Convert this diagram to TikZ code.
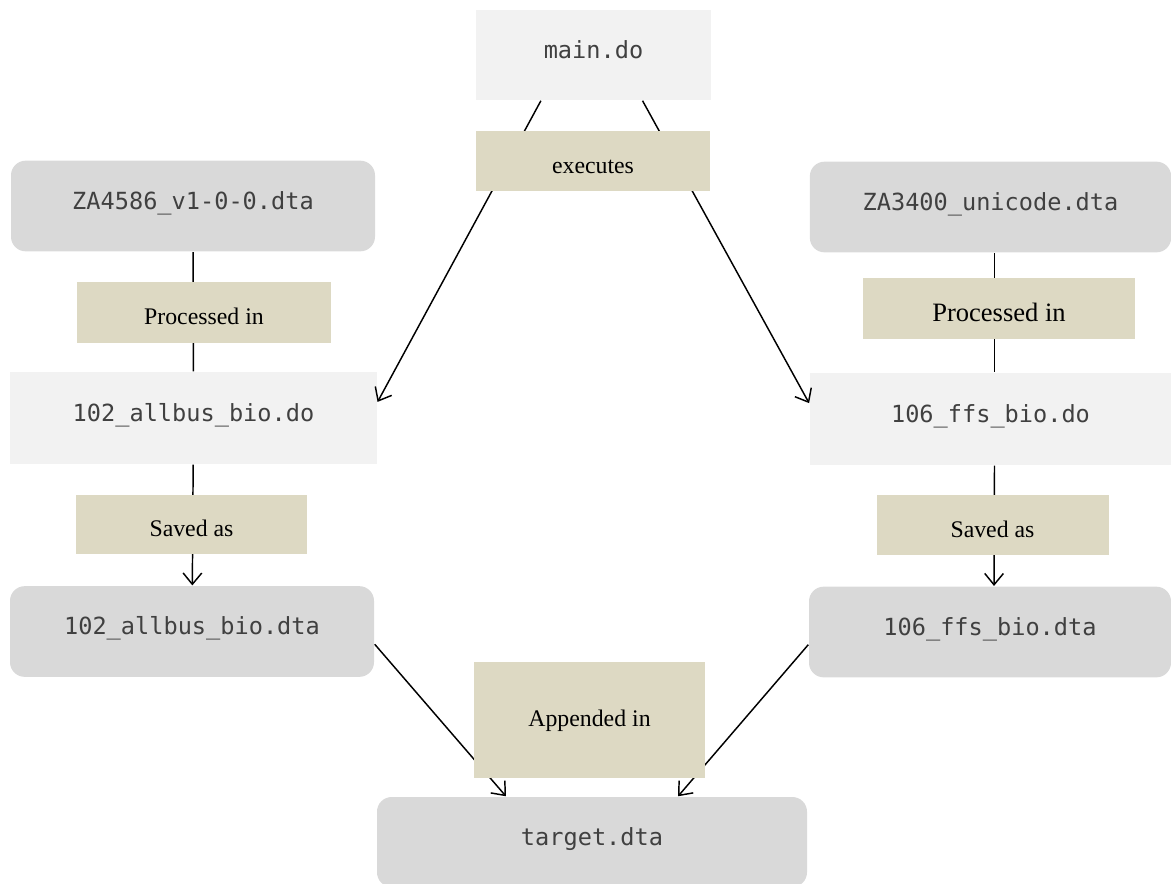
\documentclass[tikz,border=0pt]{standalone}
\usepackage{fontspec}
\setmainfont{Liberation Serif}
\setmonofont{DejaVu Sans Mono}
\usetikzlibrary{arrows.meta}

\definecolor{dofill}{HTML}{F2F2F2}
\definecolor{dtafill}{HTML}{D9D9D9}
\definecolor{tagfill}{HTML}{DDD9C3}

\tikzstyle{dofile} = [rectangle, minimum width=275pt, minimum height=69pt, inner sep=0pt, text height=10pt, text depth=5pt, text centered, fill=dofill, text=black!75, font=\ttfamily\fontsize{17.7}{20}\selectfont]
\tikzstyle{dtafile} = [rectangle, rounded corners=11pt, minimum width=273pt, minimum height=68pt, inner sep=0pt, text height=10pt, text depth=5pt, text centered, fill=dtafill, text=black!75, font=\ttfamily\fontsize{17.7}{20}\selectfont]
\tikzstyle{tag} = [rectangle, minimum width=174pt, minimum height=45pt, inner sep=0pt, text height=20pt, text depth=2pt, text centered, fill=tagfill, font=\fontsize{17.85}{20}\selectfont]

\begin{document}
\begin{tikzpicture}[x=0.75pt,y=-0.75pt,-{Straight Barb[length=8.5pt,width=14pt]},line width=1.1pt]
    \useasboundingbox (0,0) rectangle (1171,883);

    \node[dofile] (M) at (593.5,55) [minimum width=176pt, minimum height=67.5pt] {main.do};

    \node[dtafile] (Z1) at (193,206) {ZA4586\_v1-0-0.dta};
    \node[dofile] (A) at (193.5,418) {102\_allbus\_bio.do};
    \node[dtafile] (C) at (192,631.5) {102\_allbus\_bio.dta};

    \node[dtafile] (Z2) at (990.5,207) [minimum width=271pt] {ZA3400\_unicode.dta};
    \node[dofile] (B) at (990.5,419) [minimum width=271pt] {106\_ffs\_bio.do};
    \node[dtafile] (D) at (990,632) [minimum width=271.5pt] {106\_ffs\_bio.dta};

    \node[dtafile] (T) at (592,842) [minimum width=322.5pt, minimum height=67.5pt] {target.dta};

    % connectors first, labels on top
    \path
    (M.221) edge (A.5)
    (M.-43) edge (B.175);

    \path
    (Z1) edge[-] (A)
    (A) edge (C)
    (C.-4) edge (T.152);

    \path
    ([xshift=3pt]Z2.south) edge[-] ([xshift=3pt]B.north)
    ([xshift=3pt]B.south) edge ([xshift=3pt]D.north)
    (D.184) edge (T.28);

    \node[tag] (LE) at (593,161) [minimum width=175.5pt] {executes};
    \node[tag] (LP1) at (204,312.5) [minimum width=190.5pt, minimum height=45.75pt] {Processed in};
    \node[tag] (LS1) at (191.5,524.5) [minimum width=173.25pt, minimum height=44.25pt] {Saved as};
    \node[tag] (LP2) at (999,308.5) [minimum width=204pt, minimum height=45.75pt, text height=22pt, font=\fontsize{19.9}{22}\selectfont] {Processed in};
    \node[tag] (LS2) at (992.5,525) {Saved as};
    \node[tag] (LA) at (589.5,720) [minimum width=173.25pt, minimum height=87pt, text height=13pt, text depth=4pt] {Appended in};

\end{tikzpicture}
\end{document}
